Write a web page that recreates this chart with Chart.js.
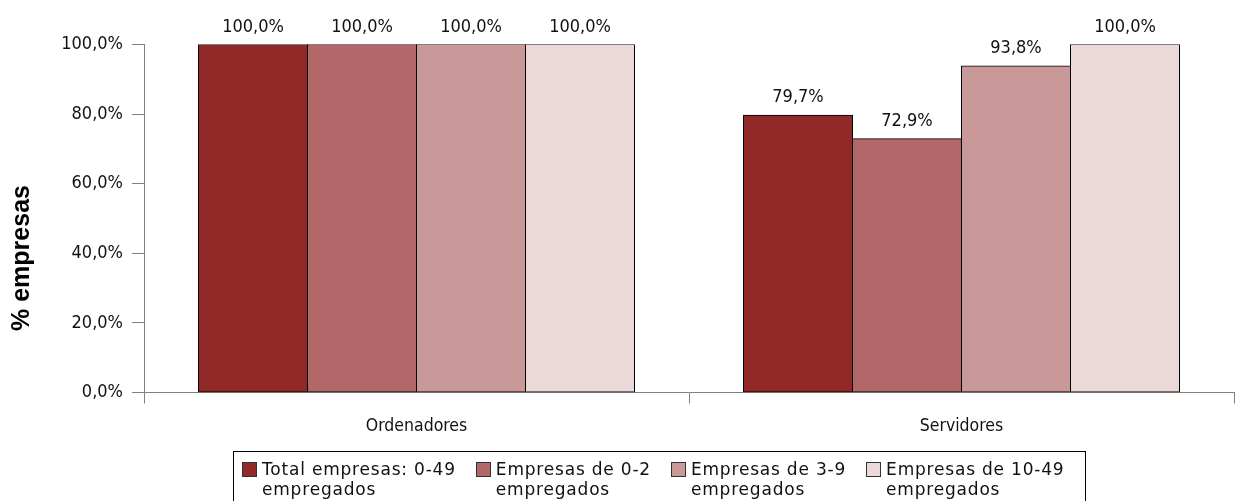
<!DOCTYPE html>
<html>
<head>
<meta charset="utf-8">
<script src="https://cdn.jsdelivr.net/npm/chart.js@4"></script>
<style>
  html, body { margin: 0; padding: 0; background: #fff; }
  #caixa { position: relative; width: 1239px; height: 501px; }
  #grafico { position: absolute; left: 0; top: 0; }
  #legenda {
    position: absolute; left: 233px; top: 451px; width: 843px; height: 52px;
    border: 1px solid #000; box-sizing: content-box;
    display: flex; align-items: flex-start; padding-left: 8px;
    font-family: "DejaVu Sans", sans-serif; font-size: 17px; letter-spacing: 0.8px;
    line-height: 20px; color: #111;
  }
  .item { display: flex; align-items: flex-start; margin-right: 20px; padding-top: 7px; }
  .cor { width: 13px; height: 13px; border: 1px solid #333; margin-top: 3px; margin-right: 5px; flex: none; }
</style>
</head>
<body>
<div id="caixa">
  <canvas id="grafico" width="1239" height="501"></canvas>
  <div id="legenda"></div>
</div>
<script>
const categorias = ["Ordenadores", "Servidores"];
const series = ["Total empresas: 0-49 empregados", "Empresas de 0-2 empregados", "Empresas de 3-9 empregados", "Empresas de 10-49 empregados"];
const total0a49 = [100, 79.7];
const empresas0a2 = [100, 72.9];
const empresas3a9 = [100, 93.8];
const empresas10a49 = [100, 100];
const ticksY = [0, 20, 40, 60, 80, 100];
const cores = ["#922929", "#b26868", "#c99898", "#ebd9d9"];

const fonte = "'DejaVu Sans Condensed', 'DejaVu Sans'";
const fmt = v => v.toFixed(1).replace(".", ",") + "%";

// rótulos de valor por cima das barras
const rotulos = {
  id: "rotulos",
  afterDatasetsDraw(chart) {
    const ctx = chart.ctx;
    ctx.save();
    ctx.font = "18px " + fonte;
    ctx.fillStyle = "#111";
    ctx.textAlign = "center";
    ctx.textBaseline = "alphabetic";
    chart.data.datasets.forEach((ds, i) => {
      chart.getDatasetMeta(i).data.forEach((bar, j) => {
        ctx.fillText(fmt(ds.data[j]), bar.x, bar.y - 13);
      });
    });
    ctx.restore();
  }
};

// título do eixo Y (centrado na altura toda)
const tituloY = {
  id: "tituloY",
  afterDraw(chart) {
    const ctx = chart.ctx;
    ctx.save();
    ctx.translate(22, 258);
    ctx.rotate(-Math.PI / 2);
    ctx.font = "bold 25px 'Liberation Sans'";
    ctx.fillStyle = "#000";
    ctx.textAlign = "center";
    ctx.textBaseline = "middle";
    ctx.fillText("% empresas", 0, 0);
    ctx.restore();
  }
};

const dadosSeries = [total0a49, empresas0a2, empresas3a9, empresas10a49];

new Chart(document.getElementById("grafico"), {
  type: "bar",
  data: {
    labels: categorias,
    datasets: dadosSeries.map((d, i) => ({
      label: series[i],
      data: d,
      backgroundColor: cores[i],
      borderColor: "#000",
      borderWidth: 1,
      borderSkipped: false,
      inflateAmount: 0.5,
      barPercentage: 1,
      categoryPercentage: 0.8
    }))
  },
  options: {
    responsive: false,
    animation: false,
    layout: { padding: { top: 44.5, right: 5, left: 0, bottom: 0 } },
    scales: {
      x: {
        afterFit: s => { s.height = 108.5; },
        grid: { offset: true, drawOnChartArea: false, tickLength: 11, color: "#808080" },
        border: { color: "#808080" },
        ticks: { color: "#111", font: { family: fonte, size: 17.5 }, padding: 12 }
      },
      y: {
        min: 0,
        max: 100,
        afterFit: s => { s.width = 144; },
        afterBuildTicks: s => { s.ticks = ticksY.map(v => ({ value: v })); },
        grid: { drawOnChartArea: false, tickLength: 12, color: "#808080" },
        border: { color: "#808080" },
        ticks: { color: "#111", font: { family: fonte, size: 18 }, padding: 9, callback: v => fmt(v) }
      }
    },
    plugins: {
      legend: { display: false },
      tooltip: { enabled: false }
    }
  },
  plugins: [rotulos, tituloY]
});

// legenda em HTML com texto em duas linhas
const legenda = document.getElementById("legenda");
series.forEach((nome, i) => {
  const partes = nome.split(" empregados");
  const item = document.createElement("div");
  item.className = "item";
  item.innerHTML = '<span class="cor" style="background:' + cores[i] + '"></span><span>' + partes[0] + '<br>empregados</span>';
  legenda.appendChild(item);
});
</script>
</body>
</html>
